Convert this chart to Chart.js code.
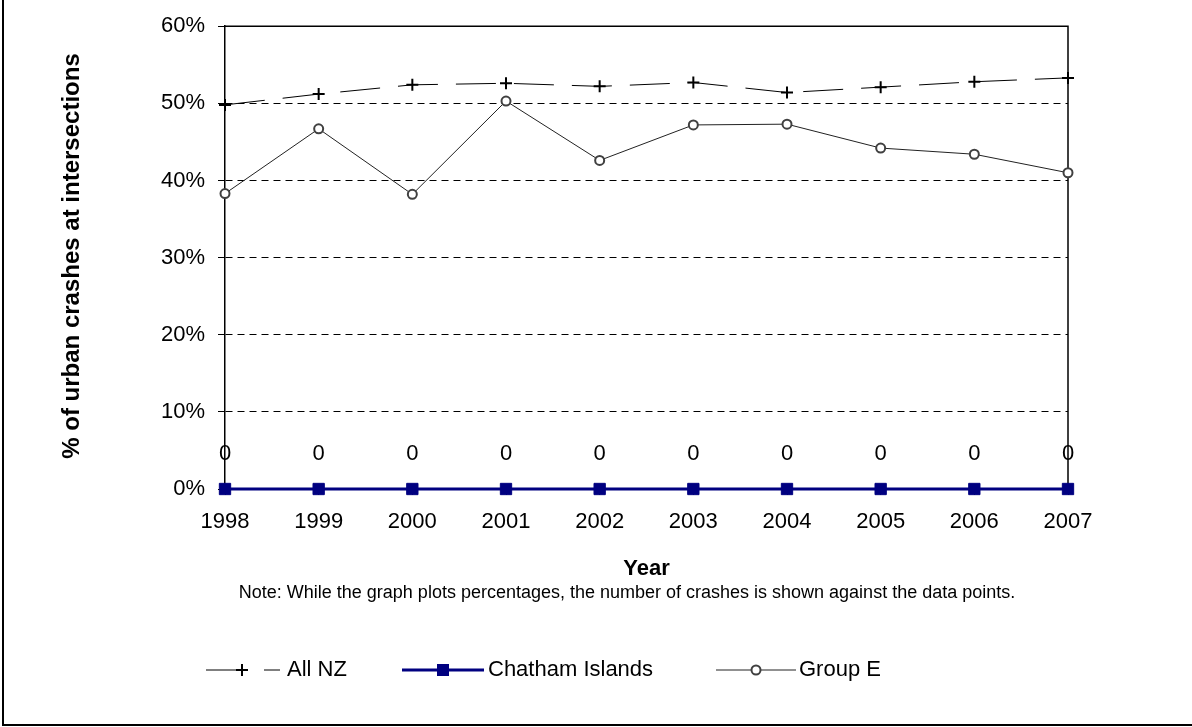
<!DOCTYPE html>
<html><head><meta charset="utf-8">
<script src="https://cdn.jsdelivr.net/npm/chart.js@4.4.1/dist/chart.umd.min.js"></script>
<style>html,body{margin:0;padding:0;background:#fff;}canvas{display:block;}</style>
</head><body>
<canvas id="c" width="1192" height="727"></canvas>
<script>
const years = ['1998','1999','2000','2001','2002','2003','2004','2005','2006','2007'];
const allNZ = [49.8, 51.2, 52.4, 52.6, 52.2, 52.7, 51.4, 52.1, 52.8, 53.3];
const chatham = [0, 0, 0, 0, 0, 0, 0, 0, 0, 0];
const chathamCounts = [0, 0, 0, 0, 0, 0, 0, 0, 0, 0];
const groupE = [38.3, 46.7, 38.2, 50.3, 42.6, 47.2, 47.3, 44.2, 43.4, 41.0];
const seriesNames = ['All NZ', 'Chatham Islands', 'Group E'];
const yTitle = '% of urban crashes at intersections';
const xTitle = 'Year';
const noteText = 'Note: While the graph plots percentages, the number of crashes is shown against the data points.';

const FONT = '"Liberation Sans", Arial, sans-serif';

function drawMarker(ctx, style, x, y) {
  ctx.save();
  if (style === 'cross') {
    ctx.strokeStyle = '#000'; ctx.lineWidth = 2; ctx.setLineDash([]);
    ctx.beginPath(); ctx.moveTo(x - 6, y); ctx.lineTo(x + 6, y); ctx.moveTo(x, y - 6); ctx.lineTo(x, y + 6); ctx.stroke();
  } else if (style === 'rect') {
    ctx.fillStyle = '#000080';
    ctx.fillRect(x - 6, y - 6, 12, 12);
  } else {
    ctx.fillStyle = '#fff'; ctx.strokeStyle = '#404040'; ctx.lineWidth = 2;
    ctx.beginPath(); ctx.arc(x, y, 4.5, 0, Math.PI * 2); ctx.fill(); ctx.stroke();
  }
  ctx.restore();
}

const framePlugin = {
  id: 'frame',
  beforeDraw(chart) {
    const ctx = chart.ctx;
    ctx.save(); ctx.fillStyle = '#fff'; ctx.fillRect(0, 0, chart.width, chart.height); ctx.restore();
  },
  beforeDatasetsDraw(chart) {
    const {ctx, chartArea: a} = chart;
    ctx.save();
    ctx.strokeStyle = '#000'; ctx.lineWidth = 1.5;
    ctx.beginPath();
    ctx.moveTo(a.left, a.top); ctx.lineTo(a.right, a.top); ctx.lineTo(a.right, a.bottom);
    ctx.stroke();
    ctx.restore();
  },
  afterDatasetsDraw(chart) {
    const ctx = chart.ctx;
    const meta = chart.getDatasetMeta(1);
    ctx.save();
    ctx.fillStyle = '#000'; ctx.font = '22px ' + FONT; ctx.textAlign = 'center'; ctx.textBaseline = 'middle';
    meta.data.forEach((pt, i) => { ctx.fillText(String(chathamCounts[i]), pt.x, pt.y - 35); });
    ctx.restore();
  },
  afterDraw(chart) {
    const {ctx, chartArea: a} = chart;
    ctx.save();
    // outer border
    ctx.strokeStyle = '#000'; ctx.lineWidth = 2;
    ctx.beginPath(); ctx.moveTo(3, 0); ctx.lineTo(3, 725); ctx.lineTo(1192, 725); ctx.stroke();
    // y title
    ctx.fillStyle = '#000';
    ctx.save();
    ctx.translate(72, 256); ctx.rotate(-Math.PI / 2);
    ctx.font = 'bold 24px ' + FONT; ctx.textAlign = 'center'; ctx.textBaseline = 'middle';
    ctx.fillText(yTitle, 0, 0);
    ctx.restore();
    // x title
    const cx = (a.left + a.right) / 2;
    ctx.font = 'bold 22px ' + FONT; ctx.textAlign = 'center'; ctx.textBaseline = 'middle';
    ctx.fillText(xTitle, cx, 569);
    ctx.font = '18px ' + FONT;
    ctx.fillText(noteText, 627, 593);
    // legend
    const ly = 670;
    ctx.textAlign = 'left'; ctx.font = '22px ' + FONT;
    // All NZ
    ctx.strokeStyle = '#000'; ctx.lineWidth = 1; ctx.setLineDash([40, 18]);
    ctx.beginPath(); ctx.moveTo(206, ly); ctx.lineTo(280, ly); ctx.stroke();
    ctx.setLineDash([]);
    drawMarker(ctx, 'cross', 242, ly);
    ctx.fillText(seriesNames[0], 287, ly);
    // Chatham
    ctx.strokeStyle = '#000080'; ctx.lineWidth = 3;
    ctx.beginPath(); ctx.moveTo(402, ly); ctx.lineTo(484, ly); ctx.stroke();
    drawMarker(ctx, 'rect', 443, ly);
    ctx.fillText(seriesNames[1], 488, ly);
    // Group E
    ctx.strokeStyle = '#222'; ctx.lineWidth = 1;
    ctx.beginPath(); ctx.moveTo(716, ly); ctx.lineTo(796, ly); ctx.stroke();
    drawMarker(ctx, 'circle', 756, ly);
    ctx.fillText(seriesNames[2], 799, ly);
    ctx.restore();
  }
};

new Chart(document.getElementById('c'), {
  type: 'line',
  data: {
    labels: years,
    datasets: [
      { label: seriesNames[0], data: allNZ, borderColor: '#000', borderWidth: 1, borderDash: [40, 18],
        pointStyle: 'cross', pointRadius: 6, pointBorderWidth: 2, pointBorderColor: '#000', pointBackgroundColor: '#000',
        tension: 0, clip: false },
      { label: seriesNames[1], data: chatham, borderColor: '#000080', borderWidth: 3,
        pointStyle: 'rect', pointRadius: 8, pointBorderWidth: 1, pointBorderColor: '#000080', pointBackgroundColor: '#000080',
        tension: 0, clip: false },
      { label: seriesNames[2], data: groupE, borderColor: '#222', borderWidth: 1,
        pointStyle: 'circle', pointRadius: 4.5, pointBorderWidth: 2, pointBorderColor: '#404040', pointBackgroundColor: '#fff',
        tension: 0, clip: false }
    ]
  },
  options: {
    responsive: false, animation: false, devicePixelRatio: 1,
    layout: { padding: { left: 0, top: 22, right: 124, bottom: 0 } },
    plugins: { legend: { display: false }, tooltip: { enabled: false } },
    scales: {
      x: {
        type: 'category', offset: false,
        grid: { drawOnChartArea: false, drawTicks: true, tickLength: 6, tickColor: '#000', color: '#000' },
        border: { display: true, color: '#000', width: 1 },
        ticks: { color: '#000', font: { family: FONT, size: 22 }, padding: 14, maxRotation: 0, autoSkip: false },
        afterFit(s) { s.height = 238; }
      },
      y: {
        min: 0, max: 60,
        grid: { color: (c) => (c.tick && (c.tick.value === 0 || c.tick.value === 60)) ? 'rgba(0,0,0,0)' : '#000',
                lineWidth: 1, tickLength: 7, tickColor: '#000', drawTicks: true },
        border: { display: true, color: '#000', width: 1.5, dash: [7, 5] },
        ticks: { stepSize: 10, color: '#000', font: { family: FONT, size: 22 }, padding: 13,
                 callback: (v) => v + '%' },
        afterFit(s) { s.width = 225; }
      }
    }
  },
  plugins: [framePlugin]
});
</script>
</body></html>
